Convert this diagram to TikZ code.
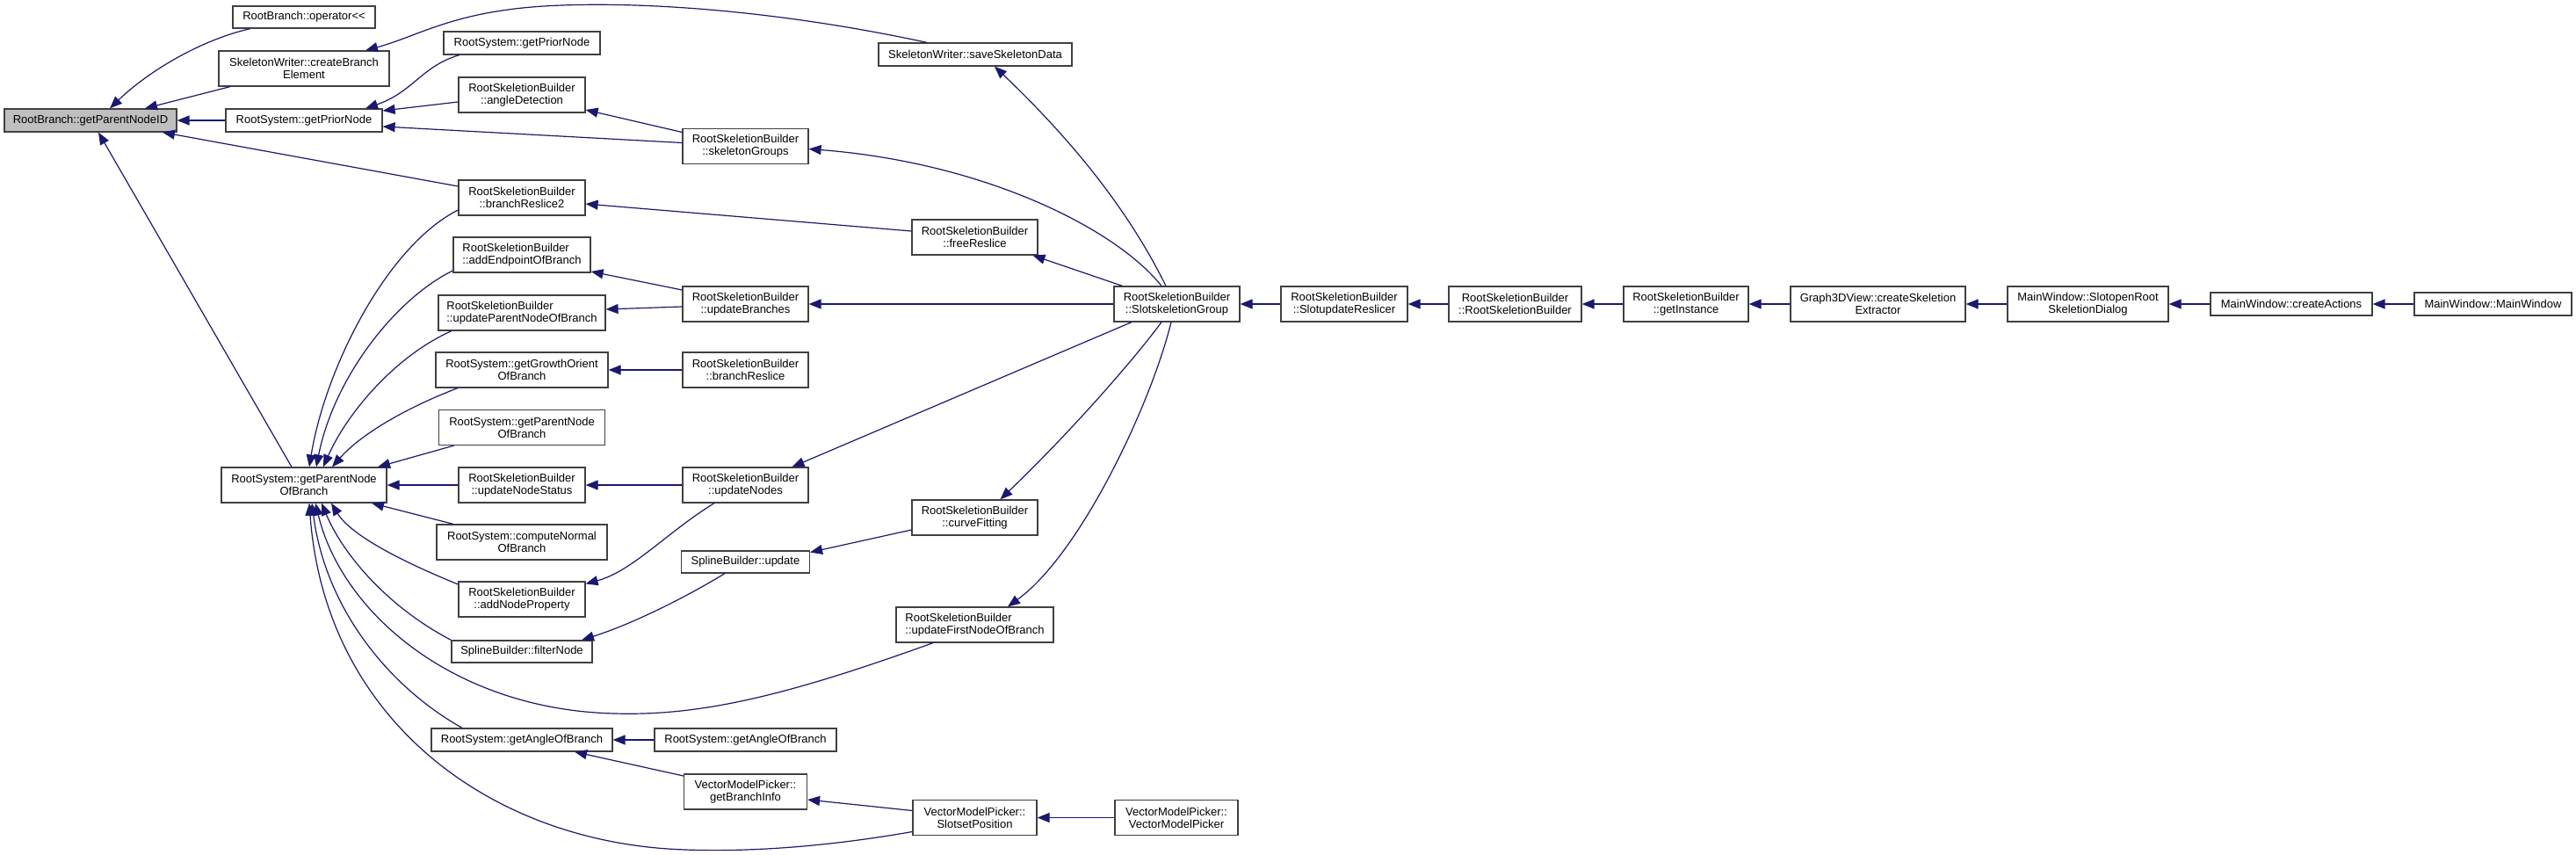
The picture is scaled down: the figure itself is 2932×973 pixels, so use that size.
\documentclass[tikz,border=0pt]{standalone}
\usepackage{fontspec}
\setmainfont{Liberation Sans}
\usetikzlibrary{arrows.meta}
\definecolor{edgeblue}{HTML}{191970}
\definecolor{rootgray}{HTML}{BFBFBF}
\definecolor{boxline}{HTML}{404040}

\begin{document}
\begin{tikzpicture}[x=1pt,y=-1pt,
    fn/.style={draw=boxline,fill=white,line width=1.2pt,font=\fontsize{13}{14}\selectfont,inner sep=0pt,minimum height=26,align=center},
    fn2/.style={fn,minimum height=40},
    call/.style={draw=edgeblue,line width=1.2pt,-{Triangle[length=14pt,width=11pt]}}]
  \useasboundingbox (0,0) rectangle (2932,973);

  % functions, column by column
  \node[fn,fill=rootgray,minimum width=196] (pid) at (103,137) {RootBranch::getParentNodeID};
  \node[fn2,minimum width=188] (pnb) at (346,552) {RootSystem::getParentNode\\OfBranch};

  \node[fn,minimum width=162,minimum height=25] (opout) at (346,19.5) {RootBranch::operator<\kern0pt<};
  \node[fn2,minimum width=194] (cbe) at (346,78) {SkeletonWriter::createBranch\\Element};
  \node[fn,minimum width=178] (gpn) at (346,137) {RootSystem::getPriorNode};

  \node[fn,minimum width=178] (gpn2) at (594,49) {RootSystem::getPriorNode};
  \node[fn2,minimum width=144] (angdet) at (594,108) {RootSkeletionBuilder\\::angleDetection};
  \node[fn2,minimum width=144] (brs2) at (594,225) {RootSkeletionBuilder\\::branchReslice2};
  \node[fn2,minimum width=156,align=left] (addep) at (594,290) {RootSkeletionBuilder\\::addEndpointOfBranch};
  \node[fn2,minimum width=190,align=left] (upnb) at (594,356) {RootSkeletionBuilder\\::updateParentNodeOfBranch};
  \node[fn2,minimum width=196] (ggo) at (594,421) {RootSystem::getGrowthOrient\\OfBranch};
  \node[fn2,minimum width=189] (pnb2) at (594,486.5) {RootSystem::getParentNode\\OfBranch};
  \node[fn2,minimum width=144] (uns) at (594,552) {RootSkeletionBuilder\\::updateNodeStatus};
  \node[fn2,minimum width=194] (cnb) at (594,617) {RootSystem::computeNormal\\OfBranch};
  \node[fn2,minimum width=144] (anp) at (594,682) {RootSkeletionBuilder\\::addNodeProperty};
  \node[fn,minimum width=160,minimum height=25] (fnode) at (594,741.5) {SplineBuilder::filterNode};
  \node[fn,minimum width=206] (gab) at (594,842) {RootSystem::getAngleOfBranch};

  \node[fn2,minimum width=143] (skg) at (848.5,166.5) {RootSkeletionBuilder\\::skeletonGroups};
  \node[fn2,minimum width=143] (ubr) at (848.5,346) {RootSkeletionBuilder\\::updateBranches};
  \node[fn2,minimum width=143] (brs) at (848.5,421) {RootSkeletionBuilder\\::branchReslice};
  \node[fn2,minimum width=143] (unodes) at (848.5,552) {RootSkeletionBuilder\\::updateNodes};
  \node[fn,minimum width=146,minimum height=25] (spu) at (848.5,639.5) {SplineBuilder::update};
  \node[fn,minimum width=207] (gab2) at (848.5,842) {RootSystem::getAngleOfBranch};
  \node[fn2,minimum width=140] (gbi) at (848.5,901) {VectorModelPicker::\\getBranchInfo};

  \node[fn,minimum width=220] (ssd) at (1110,62) {SkeletonWriter::saveSkeletonData};
  \node[fn2,minimum width=143] (frs) at (1109.5,270) {RootSkeletionBuilder\\::freeReslice};
  \node[fn2,minimum width=143] (cfit) at (1109.5,589) {RootSkeletionBuilder\\::curveFitting};
  \node[fn2,minimum width=179,align=left] (ufn) at (1109.5,711) {RootSkeletionBuilder\\::updateFirstNodeOfBranch};
  \node[fn2,minimum width=141] (ssp) at (1109.5,930.5) {VectorModelPicker::\\SlotsetPosition};

  \node[fn2,minimum width=143] (ssg) at (1339.5,346) {RootSkeletionBuilder\\::SlotskeletionGroup};
  \node[fn2,minimum width=140] (vmp) at (1339,930.5) {VectorModelPicker::\\VectorModelPicker};

  \node[fn2,minimum width=144] (sur) at (1530,346) {RootSkeletionBuilder\\::SlotupdateReslicer};
  \node[fn2,minimum width=151] (rsb) at (1724.5,346) {RootSkeletionBuilder\\::RootSkeletionBuilder};
  \node[fn2,minimum width=142] (ginst) at (1919,346) {RootSkeletionBuilder\\::getInstance};
  \node[fn2,minimum width=199] (g3d) at (2137.5,346) {Graph3DView::createSkeletion\\Extractor};
  \node[fn2,minimum width=183] (sord) at (2376.5,346) {MainWindow::SlotopenRoot\\SkeletionDialog};
  \node[fn,minimum width=184] (cact) at (2608,346) {MainWindow::createActions};
  \node[fn,minimum width=179] (mwin) at (2837.5,346) {MainWindow::MainWindow};

  % calls into RootBranch::getParentNodeID
  \draw[call] ([xshift=-61]opout.south) .. controls (230,45) and (170,80) .. ([xshift=22]pid.north);
  \draw[call] ([xshift=-84]cbe.south) -- ([xshift=62]pid.north);
  \draw[call] (gpn.west) -- (pid.east);
  \draw[call] ([yshift=13]brs2.west) -- ([xshift=82]pid.south);
  \draw[call] ([xshift=-14]pnb.north) -- ([xshift=9]pid.south);

  \draw[call] ([xshift=-55]ssd.north) .. controls (900,15) and (750,2) .. (640,6) .. controls (520,10) and (480,40) .. ([xshift=70]cbe.north);
  \draw[call] ([xshift=-71]gpn2.south) .. controls (480,75) and (470,105) .. ([xshift=70]gpn.north);
  \draw[call] ([yshift=-8]angdet.west) -- ([yshift=11]gpn.east);
  \draw[call] ([yshift=4]skg.west) -- ([yshift=-7]gpn.east);

  \draw[call] ([yshift=16]skg.west) -- ([yshift=-17]angdet.east);
  \draw[call] ([yshift=7]frs.west) -- ([yshift=-7]brs2.east);
  \draw[call] ([yshift=16]ubr.west) -- ([yshift=-19]addep.east);
  \draw[call] ([yshift=-3]ubr.west) -- ([yshift=4]upnb.east);
  \draw[call] (brs.west) -- (ggo.east);
  \draw[call] (unodes.west) -- (uns.east);
  \draw[call] (uns.west) -- (pnb.east);
  \draw[call] ([xshift=-35.5]unodes.south) .. controls (760,605) and (720,650) .. ([yshift=-3]anp.north east);
  \draw[call] ([xshift=-23.5]spu.south) .. controls (780,680) and (720,710) .. ([xshift=68]fnode.north);
  \draw[call] ([yshift=-14]cfit.west) -- ([yshift=11]spu.east);
  \draw[call] (gab2.west) -- (gab.east);
  \draw[call] ([yshift=18]gbi.west) -- ([xshift=60]gab.south);
  \draw[call] ([yshift=8]ssp.west) -- ([yshift=-9]gbi.east);
  \draw[call] (vmp.west) -- (ssp.east);

  % out of ::SlotskeletionGroup
  \draw[call] ([xshift=-17.5]ssg.north) .. controls (1270,260) and (1120,185) .. ([yshift=-3]skg.east);
  \draw[call] ([xshift=-12.5]ssg.north) .. controls (1280,230) and (1210,150) .. ([xshift=22]ssd.south);
  \draw[call] ([xshift=-62]ssg.north) -- ([xshift=66]frs.south);
  \draw[call] (ssg.west) -- (ubr.east);
  \draw[call] ([xshift=-51.5]ssg.south) -- ([xshift=53]unodes.north);
  \draw[call] ([xshift=-17.5]ssg.south) .. controls (1290,410) and (1220,490) .. ([xshift=29]cfit.north);
  \draw[call] ([xshift=-6.5]ssg.south) .. controls (1310,460) and (1230,630) .. ([xshift=37.5]ufn.north);

  % calls into RootSystem::getParentNodeOfBranch
  \draw[call] ([yshift=-14]brs2.west) .. controls (440,280) and (370,420) .. ([xshift=6]pnb.north);
  \draw[call] ([yshift=-18]addep.west) .. controls (450,340) and (380,430) .. ([xshift=14]pnb.north);
  \draw[call] ([xshift=-80]upnb.south) .. controls (450,405) and (395,470) .. ([xshift=22]pnb.north);
  \draw[call] ([xshift=-73]ggo.south) .. controls (460,465) and (410,495) .. ([xshift=32]pnb.north);
  \draw[call] ([xshift=-77.5]pnb2.south) -- ([xshift=84]pnb.north);
  \draw[call] ([xshift=-78]cnb.north) -- ([xshift=77]pnb.south);
  \draw[call] ([yshift=17]anp.west) .. controls (460,640) and (400,610) .. ([xshift=31]pnb.south);
  \draw[call] (fnode.north west) .. controls (440,690) and (390,630) .. ([xshift=20]pnb.south);
  \draw[call] ([xshift=-47.5]ufn.south) .. controls (900,790) and (800,815) .. (700,812) .. controls (520,808) and (390,700) .. ([xshift=13]pnb.south);
  \draw[call] ([xshift=-68]gab.north) .. controls (440,780) and (370,690) .. ([xshift=9]pnb.south);
  \draw[call] ([yshift=-16]ssp.west) .. controls (950,962) and (860,970) .. (780,967) .. controls (560,960) and (370,820) .. ([xshift=6]pnb.south);

  % chain of callers on the right
  \foreach \caller/\callee in {sur/ssg,rsb/sur,ginst/rsb,g3d/ginst,sord/g3d,cact/sord,mwin/cact}
    \draw[call] (\caller.west) -- (\callee.east);
\end{tikzpicture}
\end{document}
